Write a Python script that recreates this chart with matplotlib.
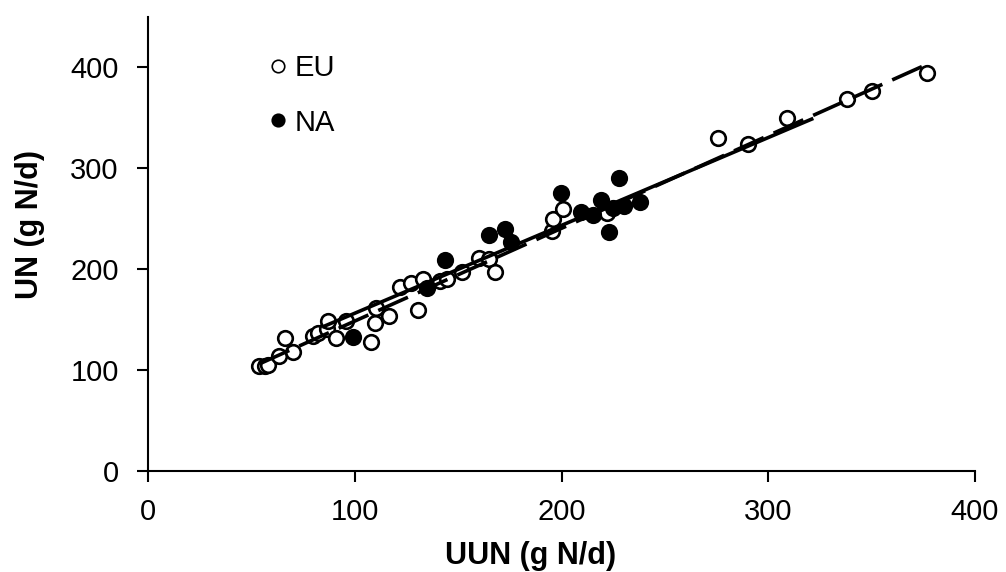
import matplotlib
matplotlib.use("Agg")
import matplotlib.pyplot as plt
from matplotlib.lines import Line2D

plt.rcParams['font.family'] = ['Liberation Sans', 'DejaVu Sans']

# EU (open circles)
eu_x = [53.8, 56.6, 58, 63.5, 66.3, 70.3, 79.6, 82, 86.4, 87, 91, 95.7, 107.7, 109.8,
        110.5, 116.5, 122, 127, 130.5, 133, 141, 144.5, 152, 160, 165, 168, 195.5,
        196, 200.7, 222, 275.6, 290, 309, 338, 350, 376.7]
eu_y = [104, 104, 105, 114, 132, 118, 134, 136, 140, 148, 132, 148, 128, 146,
        161, 153, 182, 186, 159, 190, 188, 190, 197, 211, 210, 197, 238,
        249, 259, 255, 330, 324, 350, 368, 376, 394]

# NA (filled circles)
na_x = [99, 135, 143.6, 165, 172.8, 175.5, 199.7, 209.5, 215, 219, 223, 225, 227.8, 230, 238]
na_y = [133, 181, 209, 234, 240, 227, 275, 256, 253, 268, 237, 260, 290, 262, 266]

# regression lines (endpoints)
solid_x = [85, 321]
solid_y = [143, 348.5]
dash_x = [54, 377]
dash_y = [106, 403]

fig = plt.figure(figsize=(10.06, 5.72), dpi=100)
ax = fig.add_axes([148/1006, 1 - 470.7/572, 827/1006, (470.7 - 16.7)/572])

ax.plot(eu_x, eu_y, 'o', mfc='white', mec='black', ms=10.5, mew=1.9, zorder=3)
ax.plot(na_x, na_y, 'o', mfc='black', mec='black', ms=10.5, mew=1.9, zorder=3)
ax.plot(solid_x, solid_y, '-', color='black', lw=2.6, zorder=4)
ax.plot(dash_x, dash_y, color='black', lw=2.6, dashes=(9, 3), zorder=4)

ax.set_xlim(0, 400)
ax.set_ylim(0, 450)
ax.set_xticks([0, 100, 200, 300, 400])
ax.set_yticks([0, 100, 200, 300, 400])
for s in ['top', 'right']:
    ax.spines[s].set_visible(False)
for s in ['left', 'bottom']:
    ax.spines[s].set_linewidth(1.5)
ax.tick_params(axis='x', direction='out', length=8, labelsize=21, pad=12, width=1.5)
ax.tick_params(axis='y', direction='out', length=8, labelsize=21, pad=13, width=1.5)
ax.set_xlabel('UUN (g N/d)', fontsize=22, fontweight='bold')
ax.set_ylabel('UN (g N/d)', fontsize=22, fontweight='bold')
ax.xaxis.set_label_coords(0.462, -0.155)
ax.yaxis.set_label_coords(-0.1245, 0.543)

handles = [Line2D([], [], ls='', marker='o', mfc='white', mec='black', ms=9, mew=1.2),
           Line2D([], [], ls='', marker='o', mfc='black', mec='black', ms=9, mew=1.2)]
ax.legend(handles, ['EU', 'NA'], loc='upper left', bbox_to_anchor=(0.1144, 0.975),
          frameon=False, fontsize=21, handlelength=0.6, handletextpad=0.3,
          labelspacing=0.9, borderpad=0.4)

fig.savefig('out.png', dpi=100)
